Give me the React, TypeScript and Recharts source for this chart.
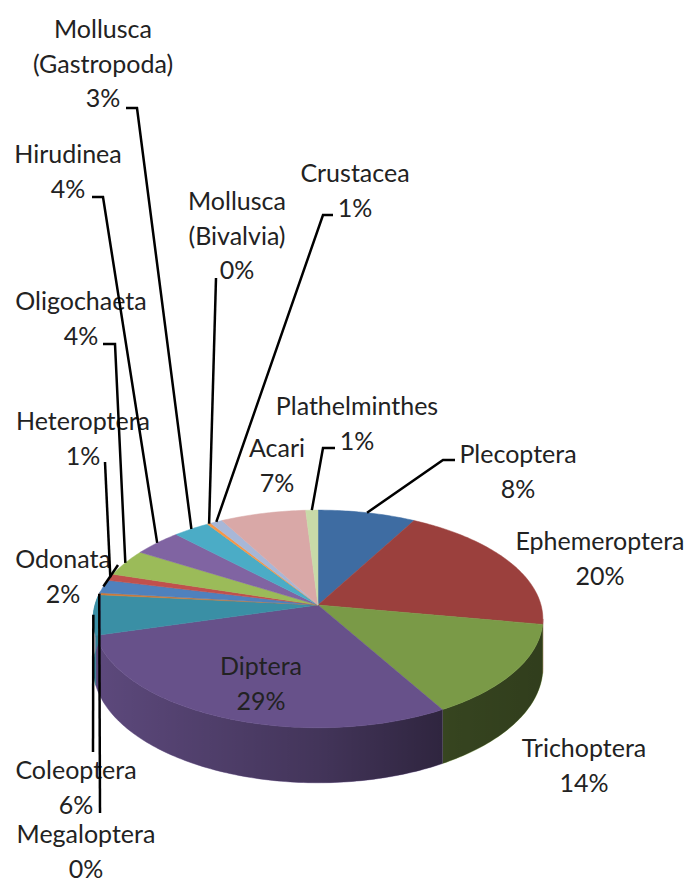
import React from 'react';
import { PieChart, Pie, Cell } from 'recharts';

// ---- data ----
const CATEGORIES = [
  'Plecoptera',
  'Ephemeroptera',
  'Trichoptera',
  'Diptera',
  'Coleoptera',
  'Megaloptera',
  'Odonata',
  'Heteroptera',
  'Oligochaeta',
  'Hirudinea',
  'Mollusca (Gastropoda)',
  'Mollusca (Bivalvia)',
  'Crustacea',
  'Acari',
  'Plathelminthes',
];
const SHARES = [8, 20, 14, 29, 6, 0.3, 2, 1, 4, 4, 3, 0.3, 1, 7, 1];
const COLORS = [
  '#3E6CA2', '#9B403D', '#7A9A47', '#67518A', '#3A8FA5', '#D07A36',
  '#4F81BD', '#C0504D', '#9BBB59', '#8064A2', '#4BACC6', '#F79646',
  '#A7B7D7', '#D9A8A7', '#C8DAA8',
];

// ---- layout (label placement, leader elbows) ----
const LABEL_LAYOUT: { x: number; y: number; leader: number[][] | null }[] = [
  { x: 518, y: 453, leader: [[455, 460], [443, 460]] },
  { x: 600, y: 540, leader: null },
  { x: 584, y: 747, leader: null },
  { x: 261, y: 665, leader: null },
  { x: 76, y: 769, leader: [[93, 752]] },
  { x: 86, y: 833, leader: [[100, 813]] },
  { x: 63, y: 558, leader: [[118, 565]] },
  { x: 83, y: 420, leader: [[105, 462]] },
  { x: 81, y: 300, leader: [[103, 344], [115, 344]] },
  { x: 68, y: 153, leader: [[92, 197], [103, 197]] },
  { x: 103, y: 28, leader: [[126, 108], [137, 108]] },
  { x: 237, y: 200, leader: [[216, 278]] },
  { x: 355, y: 172, leader: [[333, 215], [323, 215]] },
  { x: 277, y: 447, leader: null },
  { x: 357, y: 405, leader: [[335, 448], [323, 448]] },
];

const data = CATEGORIES.map((name, i) => ({ name, value: SHARES[i] }));

const K = 0.128; // perspective factor
const RY_RATIO = 0.48;
const DEPTH = 48;
const LINE_H = 34.5;
const FONT = 'Lato, "Open Sans", sans-serif';

function proj(cx: number, cy: number, rx: number, deg: number) {
  const t = (deg * Math.PI) / 180;
  const s = 1 / (1 + K * Math.sin(t));
  return [cx + rx * Math.cos(t) * s, cy - rx * RY_RATIO * Math.sin(t) * s, s];
}

const Slice3D = (props: any) => {
  const { cx, cy, outerRadius, startAngle, endAngle, fill } = props;
  const a0 = Math.min(startAngle, endAngle);
  const a1 = Math.max(startAngle, endAngle);
  const rx = outerRadius;
  const n = Math.max(2, Math.ceil((a1 - a0) / 1));
  let top = `M${cx},${cy}`;
  for (let i = 0; i <= n; i++) {
    const d = a1 - ((a1 - a0) * i) / n;
    const [x, y] = proj(cx, cy, rx, d);
    top += ` L${x.toFixed(2)},${y.toFixed(2)}`;
  }
  top += ' Z';

  const asinK = (Math.asin(K) * 180) / Math.PI;
  const fL = -180 - asinK;
  const fR = -asinK;
  const sides: string[] = [];
  for (const o of [-720, -360, 0, 360]) {
    const lo = Math.max(a0 + o, fL);
    const hi = Math.min(a1 + o, fR);
    if (hi > lo) {
      const m = Math.max(2, Math.ceil(hi - lo));
      const up: number[][] = [];
      for (let i = 0; i <= m; i++) {
        const d = lo + ((hi - lo) * i) / m;
        up.push(proj(cx, cy, rx, d));
      }
      let p = '';
      up.forEach(([x, y], i) => {
        p += `${i === 0 ? 'M' : 'L'}${x.toFixed(2)},${y.toFixed(2)} `;
      });
      for (let i = up.length - 1; i >= 0; i--) {
        const [x, y, s] = up[i];
        p += `L${x.toFixed(2)},${(y + DEPTH * s).toFixed(2)} `;
      }
      p += 'Z';
      sides.push(p);
    }
  }
  return (
    <g>
      <defs>
        <linearGradient id="sideShade" gradientUnits="userSpaceOnUse" x1={cx - rx} y1={0} x2={cx + rx} y2={0}>
          <stop offset="0" stopColor="#000" stopOpacity={0.1} />
          <stop offset="0.5" stopColor="#000" stopOpacity={0.35} />
          <stop offset="0.8" stopColor="#000" stopOpacity={0.56} />
          <stop offset="1" stopColor="#000" stopOpacity={0.6} />
        </linearGradient>
      </defs>
      {sides.map((p, i) => (
        <g key={i}>
          <path d={p} fill={fill} stroke={fill} strokeWidth={0.5} />
          <path d={p} fill="url(#sideShade)" />
        </g>
      ))}
      <path d={top} fill={fill} stroke={fill} strokeWidth={0.5} />
    </g>
  );
};

const renderLabel = (props: any) => {
  const { cx, cy, outerRadius, midAngle, percent, index } = props;
  const lay = LABEL_LAYOUT[index];
  if (!lay) return null;
  const name: string = CATEGORIES[index];
  const idx = name.indexOf(' (');
  const lines = idx > 0 ? [name.slice(0, idx), name.slice(idx + 1)] : [name];
  lines.push(`${Math.round(percent * 100)}%`);
  let leader = null;
  if (lay.leader) {
    const [ex, ey] = proj(cx, cy, outerRadius, midAngle);
    const pts = [...lay.leader, [ex, ey]].map((p) => p.join(',')).join(' ');
    leader = <polyline points={pts} fill="none" stroke="#000" strokeWidth={2.5} />;
  }
  return (
    <g key={`lab-${index}`}>
      {leader}
      {lines.map((t, i) => (
        <text
          key={i}
          x={lay.x}
          y={lay.y + i * LINE_H}
          textAnchor="middle"
          dominantBaseline="central"
          fontFamily={FONT}
          fontSize={25}
          fill="#222"
        >
          {t}
        </text>
      ))}
    </g>
  );
};

export default function App() {
  return (
    <div style={{ position: 'absolute', left: 0, top: 0, width: 692, height: 881, background: '#fff' }}>
      <PieChart width={692} height={881} margin={{ top: 0, right: 0, bottom: 0, left: 0 }}>
        <Pie
          data={data}
          dataKey="value"
          nameKey="name"
          cx={318}
          cy={605}
          outerRadius={223}
          startAngle={90}
          endAngle={-270}
          stroke="none"
          shape={Slice3D}
          label={renderLabel}
          labelLine={false}
          isAnimationActive={false}
        >
          {data.map((d, i) => (
            <Cell key={d.name} fill={COLORS[i]} />
          ))}
        </Pie>
      </PieChart>
    </div>
  );
}
